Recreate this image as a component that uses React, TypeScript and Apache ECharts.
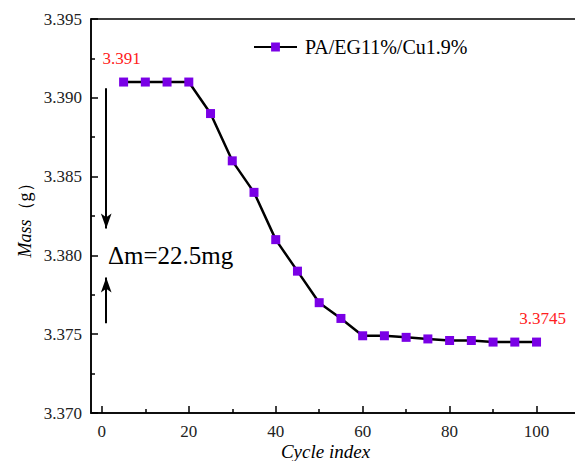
import React, { useEffect, useRef } from "react";
import * as echarts from "echarts";

const cycles = [5, 10, 15, 20, 25, 30, 35, 40, 45, 50, 55, 60, 65, 70, 75, 80, 85, 90, 95, 100];
const masses = [3.391, 3.391, 3.391, 3.391, 3.389, 3.386, 3.384, 3.381, 3.379, 3.377, 3.376, 3.3749, 3.3749, 3.3748, 3.3747, 3.3746, 3.3746, 3.3745, 3.3745, 3.3745];
const xMajor = [0, 20, 40, 60, 80, 100];
const xMinor = [10, 30, 50, 70, 90];
const seriesName = "PA/EG11%/Cu1.9%";
const deltaText = "Δm=22.5mg";
const downArrow = [[1, 3.3906], [1, 3.3817]];
const upArrow = [[1, 3.3757], [1, 3.3786]];

const SERIF = "Liberation Serif";

export default function App() {
  const ref = useRef<HTMLDivElement>(null);
  useEffect(() => {
    const chart = echarts.init(ref.current!, null, { renderer: "svg" });
    const data = cycles.map((c, i) => {
      const item: any = { value: [c, masses[i]] };
      if (i === 0) {
        item.label = { show: true, position: "top", distance: 11, offset: [-2, 0] };
      }
      if (i === cycles.length - 1) {
        item.label = { show: true, position: "top", distance: 11, offset: [6, 0] };
      }
      return item;
    });
    chart.setOption({
      animation: false,
      textStyle: { fontFamily: SERIF },
      grid: {
        left: 91,
        top: 19,
        width: 489,
        height: 394,
        show: true,
        borderColor: "#000",
        borderWidth: 1.5,
        outerBoundsMode: "none",
        containLabel: false,
      },
      legend: {
        left: 248,
        top: 32,
        itemWidth: 43,
        itemHeight: 11,
        textStyle: { fontFamily: SERIF, fontSize: 20, color: "#000", padding: [0, 0, 0, 3] },
        data: [seriesName],
      },
      xAxis: [
        {
          type: "value",
          min: -2.5,
          max: 110,
          name: "Cycle index",
          nameLocation: "middle",
          nameGap: 29,
          nameMoveOverlap: false,
          nameTextStyle: {
            fontFamily: SERIF,
            fontStyle: "italic",
            fontSize: 19,
            color: "#000",
            padding: [0, 20, 0, 0],
          },
          axisLine: { show: true, onZero: false, lineStyle: { color: "#000", width: 1.5 } },
          axisTick: { show: true, inside: true, length: 7, customValues: xMajor, lineStyle: { color: "#000", width: 1.5 } },
          axisLabel: {
            customValues: xMajor,
            fontFamily: SERIF,
            fontSize: 17,
            color: "#222",
            margin: 10,
          },
          splitLine: { show: false },
        },
        {
          type: "value",
          min: -2.5,
          max: 110,
          position: "bottom",
          axisLine: { show: false, onZero: false },
          axisTick: { show: true, inside: true, length: 4, customValues: xMinor, lineStyle: { color: "#000", width: 1.5 } },
          axisLabel: { show: false },
          splitLine: { show: false },
        },
      ],
      yAxis: {
        type: "value",
        min: 3.37,
        max: 3.395,
        interval: 0.005,
        name: "{i|Mass}（g）",
        nameLocation: "middle",
        nameGap: 57,
        nameMoveOverlap: false,
        nameTextStyle: {
          fontFamily: SERIF,
          fontSize: 18,
          color: "#000",
          rich: { i: { fontFamily: SERIF, fontStyle: "italic", fontSize: 18, color: "#000" } },
        },
        axisLine: { show: true, onZero: false, lineStyle: { color: "#000", width: 1.5 } },
        axisTick: { show: true, inside: true, length: 7, lineStyle: { color: "#000", width: 1.5 } },
        minorTick: { show: true, splitNumber: 2, length: 4, lineStyle: { color: "#000", width: 1.5 } },
        axisLabel: {
          fontFamily: SERIF,
          fontSize: 17,
          color: "#222",
          margin: 9,
          formatter: (v: number) => v.toFixed(3),
        },
        splitLine: { show: false },
        minorSplitLine: { show: false },
      },
      series: [
        {
          name: seriesName,
          type: "line",
          data,
          symbol: "rect",
          symbolSize: 9,
          itemStyle: { color: "#7A00E6" },
          lineStyle: { color: "#000", width: 2.5 },
          label: {
            show: false,
            fontFamily: SERIF,
            fontSize: 17,
            color: "#FF2020",
            formatter: (p: any) => String(p.value[1]),
          },
          markLine: {
            silent: true,
            symbol: ["none", "arrow"],
            symbolSize: [8, 15],
            label: { show: false },
            lineStyle: { color: "#000", width: 2, type: "solid" },
            data: [
              [{ coord: downArrow[0] }, { coord: downArrow[1] }],
              [{ coord: upArrow[0] }, { coord: upArrow[1] }],
            ],
          },
        },
      ],
      graphic: [
        {
          type: "text",
          left: 108,
          top: 243,
          style: { text: deltaText, fontFamily: SERIF, fontSize: 25, fill: "#000" },
        },
      ],
    });
    return () => chart.dispose();
  }, []);
  return (
    <div
      ref={ref}
      style={{ position: "absolute", left: 0, top: 0, width: 575, height: 461, background: "#fff" }}
    />
  );
}
